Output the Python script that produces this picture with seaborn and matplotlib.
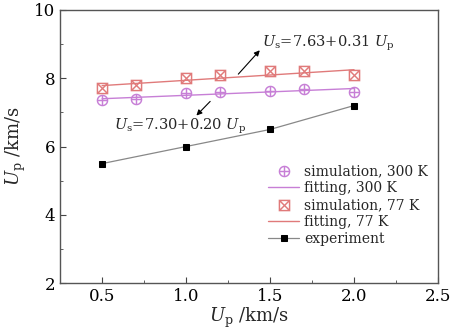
import matplotlib
matplotlib.use("Agg")
import matplotlib.pyplot as plt
import numpy as np
import pandas as pd
import seaborn as sns

# simulation data (Up in km/s, Us in km/s)
sim_up = [0.5, 0.7, 1.0, 1.2, 1.5, 1.7, 2.0]
sim_300k = [7.35, 7.38, 7.56, 7.59, 7.62, 7.68, 7.59]
sim_77k = [7.71, 7.79, 8.00, 8.09, 8.20, 8.20, 8.09]

# fitted lines, end points
fit_up = [0.5, 2.0]
fit_300k = [7.40, 7.70]
fit_77k = [7.785, 8.25]

# experiment
exp_up = [0.5, 1.0, 1.5, 2.0]
exp_us = [5.5, 6.0, 6.5, 7.2]

C300 = "#c77fd6"
C77 = "#e07a7a"

sns.set_style("ticks")
plt.rcParams["font.family"] = ["DejaVu Serif"]
plt.rcParams["mathtext.fontset"] = "dejavuserif"

fig = plt.figure(figsize=(4.52, 3.33), dpi=100)
ax = fig.add_axes([0.133, 0.150, 0.836, 0.820])

sim = pd.DataFrame({"up": sim_up, "s300": sim_300k, "s77": sim_77k})
fit = pd.DataFrame({"up": fit_up, "f300": fit_300k, "f77": fit_77k})
exp = pd.DataFrame({"up": exp_up, "us": exp_us})

sns.scatterplot(data=sim, x="up", y="s300", ax=ax, marker=r"$\oplus$", s=70,
                color=C300, linewidth=0, label="simulation, 300 K", zorder=3)
sns.lineplot(data=fit, x="up", y="f300", ax=ax, color=C300, lw=1.0,
             label="fitting, 300 K")
sns.scatterplot(data=sim, x="up", y="s77", ax=ax, marker=r"$\boxtimes$", s=70,
                color=C77, linewidth=0, label="simulation, 77 K", zorder=3)
sns.lineplot(data=fit, x="up", y="f77", ax=ax, color=C77, lw=1.0,
             label="fitting, 77 K")
sns.lineplot(data=exp, x="up", y="us", ax=ax, color="#888888", lw=0.9,
             marker="s", markersize=5, markerfacecolor="black",
             markeredgecolor="black", label="experiment")

ax.set_xlim(0.25, 2.5)
ax.set_ylim(2, 10)
ax.set_xticks([0.5, 1.0, 1.5, 2.0, 2.5])
ax.set_yticks([2, 4, 6, 8, 10])
ax.set_xticks(np.arange(0.75, 2.5, 0.5), minor=True)
ax.set_yticks([3, 5, 7, 9], minor=True)
ax.tick_params(which="both", direction="in", labelsize=12, colors="#444444",
               labelcolor="black")
ax.tick_params(which="major", length=4)
ax.tick_params(which="minor", length=2)
for sp in ax.spines.values():
    sp.set_visible(True)
    sp.set_color("#555555")
    sp.set_linewidth(1.0)

ax.set_xlabel(r"$U_{\rm p}$ /km/s", fontsize=13, labelpad=1)
ax.set_ylabel(r"$U_{\rm p}$ /km/s", fontsize=13, labelpad=4)

ax.annotate("", xy=(1.45, 8.88), xytext=(1.30, 8.06),
            arrowprops=dict(arrowstyle="-|>", color="black", lw=0.8,
                            mutation_scale=8))
ax.text(1.45, 9.02, r"$U_{\rm s}$=7.63+0.31 $U_{\rm p}$", fontsize=10.5,
        va="center", ha="left")
ax.annotate("", xy=(1.05, 6.85), xytext=(1.155, 7.38),
            arrowprops=dict(arrowstyle="-|>", color="black", lw=0.8,
                            mutation_scale=8))
ax.text(0.57, 6.58, r"$U_{\rm s}$=7.30+0.20 $U_{\rm p}$", fontsize=10.5,
        va="center", ha="left")

ax.legend(loc="lower right", bbox_to_anchor=(1.0, 0.10), frameon=False,
          fontsize=10, handlelength=2.2, handletextpad=0.4, labelspacing=0.22,
          borderpad=0.2)

fig.savefig("out.png", dpi=100)
